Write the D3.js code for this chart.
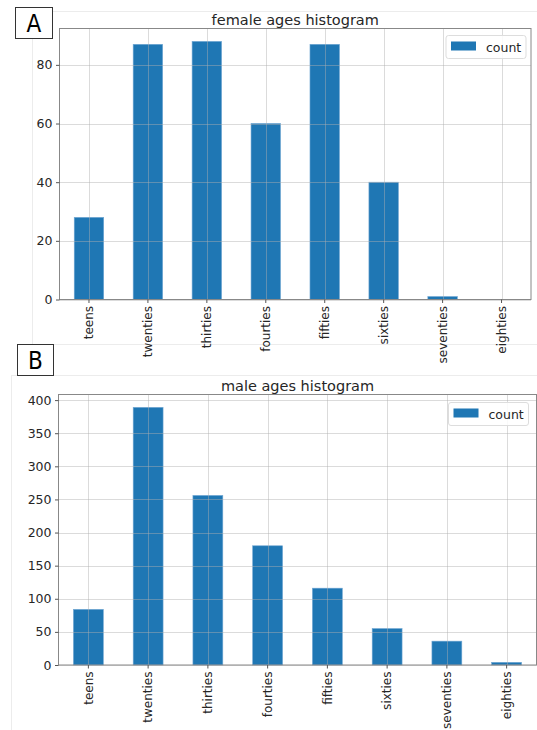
<!DOCTYPE html>
<html>
<head>
<meta charset="utf-8">
<script src="https://cdn.jsdelivr.net/npm/d3@7"></script>
<style>
  body { margin: 0; background: #fff; }
  svg { display: block; }
  text { font-family: "DejaVu Sans", sans-serif; fill: #262626; }
  .tick line { stroke: #555; }
  .domain { display: none; }
</style>
</head>
<body>
<div class="chart"></div>
<script>
// data
var categories = ["teens", "twenties", "thirties", "fourties", "fifties", "sixties", "seventies", "eighties"];
var femaleCounts = [28, 87, 88, 60, 87, 40, 1, 0];
var maleCounts = [84, 389, 256, 180, 116, 55, 36, 4];
var femaleTicks = [0, 20, 40, 60, 80];
var maleTicks = [0, 50, 100, 150, 200, 250, 300, 350, 400];

var width = 537, height = 730;
var svg = d3.select(".chart").append("svg")
  .attr("width", width)
  .attr("height", height);

// faint panel frames
svg.append("rect").attr("x", 32.5).attr("y", 11.5).attr("width", 520).attr("height", 333)
  .attr("fill", "none").attr("stroke", "#ececec");
svg.append("rect").attr("x", 11.5).attr("y", 375.5).attr("width", 540).attr("height", 380)
  .attr("fill", "none").attr("stroke", "#ececec");

drawPanel({
  title: "female ages histogram",
  values: femaleCounts,
  ticks: femaleTicks,
  left: 59.5, right: 531, top: 28.5, bottom: 299.5,
  titleY: 25, letter: "A", box: [15.5, 7.5, 37, 31],
  legend: [446, 35.5]
});

drawPanel({
  title: "male ages histogram",
  values: maleCounts,
  ticks: maleTicks,
  left: 58.5, right: 536.5, top: 394.5, bottom: 665,
  titleY: 390.5, letter: "B", box: [17.5, 344.5, 36, 31],
  legend: [448.5, 402.5]
});

function drawPanel(p) {
  var g = svg.append("g");

  var x = d3.scaleBand()
    .domain(categories)
    .range([p.left, p.right])
    .paddingInner(0.5)
    .paddingOuter(0.25);

  var ymax = d3.max(p.values) * 1.05;
  var y = d3.scaleLinear()
    .domain([0, ymax])
    .range([p.bottom, p.top]);

  // bars
  g.selectAll(".bar")
    .data(p.values)
    .enter().append("rect")
    .attr("class", "bar")
    .attr("x", function(d, i) { return x(categories[i]); })
    .attr("y", function(d) { return y(d); })
    .attr("width", x.bandwidth())
    .attr("height", function(d) { return p.bottom - y(d); })
    .attr("fill", "#1f77b4")
    .attr("stroke", "#6fa6d3")
    .attr("stroke-width", 0.6);

  // grid on top of bars
  g.selectAll(".hgrid")
    .data(p.ticks)
    .enter().append("line")
    .attr("x1", p.left).attr("x2", p.right)
    .attr("y1", function(d) { return Math.round(y(d)) + 0.5; })
    .attr("y2", function(d) { return Math.round(y(d)) + 0.5; })
    .attr("stroke", "#b0b0b0").attr("stroke-opacity", 0.45);
  g.selectAll(".vgrid")
    .data(categories)
    .enter().append("line")
    .attr("x1", function(d) { return Math.round(x(d) + x.bandwidth() / 2) + 0.5; })
    .attr("x2", function(d) { return Math.round(x(d) + x.bandwidth() / 2) + 0.5; })
    .attr("y1", p.top).attr("y2", p.bottom)
    .attr("stroke", "#b0b0b0").attr("stroke-opacity", 0.45);

  // frame
  g.append("rect")
    .attr("x", p.left).attr("y", p.top)
    .attr("width", p.right - p.left).attr("height", p.bottom - p.top)
    .attr("fill", "none").attr("stroke", "#888").attr("stroke-width", 1);

  // axes
  var yAxis = g.append("g")
    .attr("transform", "translate(" + p.left + ",0)")
    .call(d3.axisLeft(y).tickValues(p.ticks).tickSize(3.5).tickPadding(3.5));
  yAxis.selectAll("text").style("font-size", "12.5px");

  var xAxis = g.append("g")
    .attr("transform", "translate(0," + p.bottom + ")")
    .call(d3.axisBottom(x).tickSize(3.5).tickPadding(3.5));
  xAxis.selectAll("text")
    .style("font-size", "12px")
    .attr("text-anchor", "end")
    .attr("transform", "rotate(-90)")
    .attr("x", -6.5)
    .attr("y", 0)
    .attr("dy", "0.35em");

  // title
  g.append("text")
    .attr("x", (p.left + p.right) / 2)
    .attr("y", p.titleY)
    .attr("text-anchor", "middle")
    .style("font-size", "14.5px")
    .text(p.title);

  // legend
  var lg = g.append("g").attr("transform", "translate(" + p.legend[0] + "," + p.legend[1] + ")");
  lg.append("rect")
    .attr("width", 80).attr("height", 23).attr("rx", 2.5)
    .attr("fill", "#fff").attr("fill-opacity", 0.85)
    .attr("stroke", "#ddd");
  lg.append("rect")
    .attr("x", 5).attr("y", 6).attr("width", 25).attr("height", 9)
    .attr("fill", "#1f77b4");
  lg.append("text")
    .attr("x", 40).attr("y", 16.5)
    .style("font-size", "12.5px")
    .text("count");

  // panel letter
  svg.append("rect")
    .attr("x", p.box[0]).attr("y", p.box[1])
    .attr("width", p.box[2]).attr("height", p.box[3])
    .attr("fill", "#fff").attr("stroke", "#333");
  svg.append("text")
    .attr("x", p.box[0] + p.box[2] / 2)
    .attr("y", p.box[1] + p.box[3] / 2 + 8.5)
    .attr("text-anchor", "middle")
    .style("font-size", "24px")
    .style("font-stretch", "condensed")
    .style("fill", "#000")
    .text(p.letter);
}
</script>
</body>
</html>
